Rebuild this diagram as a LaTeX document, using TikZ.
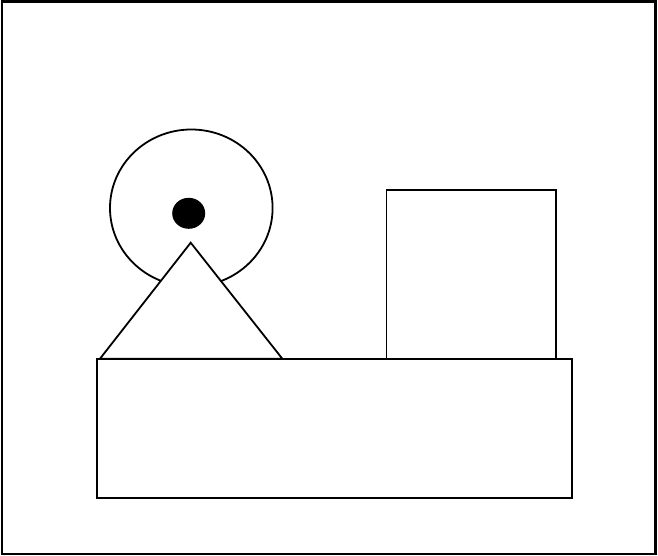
\documentclass[tikz,border=0pt]{standalone}
\begin{document}
\begin{tikzpicture}[x=1pt,y=-1pt,
  outlined/.style={draw=black,line width=1.8pt,fill=white}]
\useasboundingbox (0,0) rectangle (658,556);
\fill[white] (0,0) rectangle (658,556);
\draw[line width=2.2pt] (2,1.5) rectangle (655.5,554);
\draw[outlined] (191.3,208) ellipse [x radius=81.3, y radius=78.5];
\fill[black] (188.7,213.3) ellipse [x radius=16.5, y radius=15.5];
\draw[outlined] (190.7,242.7) -- (100,358.7) -- (282.3,358.7) -- cycle;
\draw[outlined] (386.5,190) rectangle (556,359);
\draw[outlined] (96.7,359) rectangle (572,498);
\end{tikzpicture}
\end{document}
